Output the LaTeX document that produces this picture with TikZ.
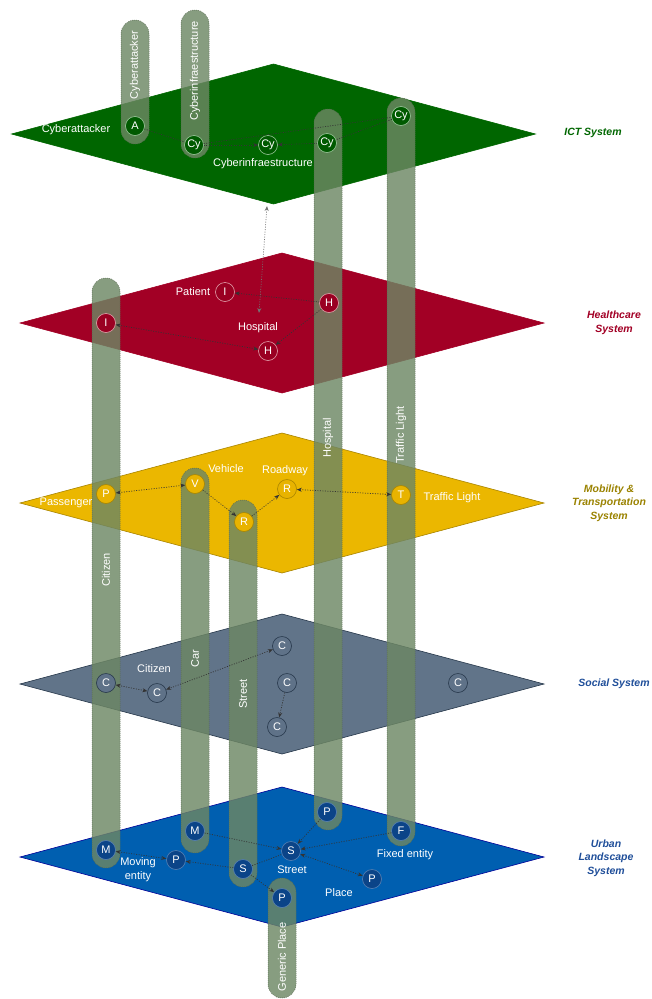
\documentclass[tikz,border=0pt]{standalone}
\usepackage{fontspec}
\setmainfont{Liberation Sans}
\usetikzlibrary{arrows.meta}
\definecolor{ictFill}{HTML}{006600}
\definecolor{ictNode}{HTML}{005A00}
\definecolor{ictLine}{HTML}{9CC89C}
\definecolor{hcFill}{HTML}{A20025}
\definecolor{hcNode}{HTML}{9A0022}
\definecolor{hcLine}{HTML}{E3A3AD}
\definecolor{mobFill}{HTML}{EBB700}
\definecolor{mobNode}{HTML}{E8B300}
\definecolor{mobLine}{HTML}{A88400}
\definecolor{socFill}{HTML}{617489}
\definecolor{socNode}{HTML}{5F7288}
\definecolor{socLine}{HTML}{26374A}
\definecolor{urbFill}{HTML}{005FB0}
\definecolor{urbNode}{HTML}{0B4488}
\definecolor{urbLine}{HTML}{5A82B4}
\definecolor{pillFill}{HTML}{6D8764}
\definecolor{pillLine}{HTML}{56694F}
\definecolor{mobText}{HTML}{9A8200}
\definecolor{socText}{HTML}{1F4E99}
\tikzset{
  ent/.style={shape=circle,inner sep=0pt,minimum size=19pt,line width=0.6pt,text=white,font=\fontsize{11}{11}\selectfont},
  ict/.style={ent,fill=ictNode,draw=ictLine},
  hc/.style={ent,fill=hcNode,draw=hcLine},
  mob/.style={ent,fill=mobNode,draw=mobLine},
  soc/.style={ent,fill=socNode,draw=socLine},
  urb/.style={ent,fill=urbNode,draw=urbLine},
  lbl/.style={text=white,inner sep=1pt,align=center,font=\fontsize{11}{14}\selectfont},
  pill/.style={fill=pillFill,fill opacity=0.82,draw=pillLine,draw opacity=0.9,line width=0.5pt,dash pattern=on 1pt off 1pt,rounded corners=13.9pt},
  pilltext/.style={rotate=90,text=white,inner sep=1pt,font=\fontsize{11}{11}\selectfont},
  link/.style={draw=black!80,line width=0.7pt,dash pattern=on 1pt off 1.5pt,>={Stealth[length=5pt,width=4pt]}},
  sys/.style={align=center,inner sep=1pt,font=\fontsize{10.5}{13.5}\selectfont\bfseries\itshape}
}
\newcommand{\plane}[4]{\filldraw[fill=#3,draw=#4,line width=0.6pt] (#1-262,#2) -- (#1,#2-70) -- (#1+262,#2) -- (#1,#2+70) -- cycle;}
\newcommand{\pillar}[6]{\draw[pill] (#2-14,#3) rectangle (#2+14,#4); \node[pilltext] (#1) at (#2,#6) {#5};}
\newcommand{\ent}[5]{\node[#5] (#1) at (#2,#3) {#4};}
\newcommand{\lbl}[4]{\node[lbl] (#1) at (#2,#3) {#4};}
\begin{document}
\begin{tikzpicture}[x=1pt,y=-1pt]
\useasboundingbox (0,0) rectangle (652,999);
% planes
\plane{273.5}{134}{ictFill}{ictFill}
\plane{282}{323}{hcFill}{hcFill}
\plane{282}{503}{mobFill}{mobLine}
\plane{282}{684}{socFill}{socLine}
\plane{282}{857}{urbFill}{blue!60!black}
% pillars
\pillar{pCyat}{135}{20}{144}{Cyberattacker}{65}
\pillar{pCyin}{195}{10}{158}{Cyberinfraestructure}{71}
\pillar{pHosp}{328}{109}{830}{Hospital}{438}
\pillar{pTraf}{401}{98}{846}{Traffic Light}{435}
\pillar{pCitz}{106}{278}{868}{Citizen}{570}
\pillar{pCar}{195}{468}{853}{Car}{659}
\pillar{pStre}{243}{500}{887}{Street}{694}
\pillar{pGenp}{282}{878}{998}{Generic Place}{957}
% ICT system
\ent{a}{135}{126}{A}{ict}
\ent{cy1}{194}{145}{Cy}{ict}
\ent{cy2}{268}{145}{Cy}{ict}
\ent{cy3}{327}{143}{Cy}{ict}
\ent{cy4}{401}{116}{Cy}{ict}
\lbl{lCyat}{76}{130}{Cyberattacker}
\lbl{lCyin}{263}{164}{Cyberinfraestructure}
\coordinate (ictBot) at (267,206);
% healthcare system
\ent{i1}{106}{323}{I}{hc}
\ent{i2}{225}{292}{I}{hc}
\ent{h1}{329}{303}{H}{hc}
\ent{h2}{268}{351}{H}{hc}
\lbl{lPati}{193}{292}{Patient}
\lbl{lHosp}{258}{328}{Hospital}
\coordinate (hospTop) at (259,313);
% mobility system
\ent{p1}{106}{494}{P}{mob}
\ent{v1}{195}{484}{V}{mob}
\ent{r1}{244}{522}{R}{mob}
\ent{r2}{287}{489}{R}{mob}
\ent{t1}{401}{495}{T}{mob}
\lbl{lPass}{66}{503}{Passenger}
\lbl{lVehi}{226}{469}{Vehicle}
\lbl{lRoad}{285}{471}{Roadway}
\lbl{lTraf}{452}{498}{Traffic Light}
% social system
\ent{c1}{106}{683}{C}{soc}
\ent{c2}{157}{693}{C}{soc}
\ent{c3}{282}{646}{C}{soc}
\ent{c4}{287}{683}{C}{soc}
\ent{c5}{277}{727}{C}{soc}
\ent{c6}{458}{683}{C}{soc}
\lbl{lCitz}{154}{669}{Citizen}
% urban landscape system
\ent{m1}{106}{850}{M}{urb}
\ent{m2}{195}{831}{M}{urb}
\ent{up1}{176}{860}{P}{urb}
\ent{s1}{243}{869}{S}{urb}
\ent{s2}{291}{851}{S}{urb}
\ent{up2}{327}{812}{P}{urb}
\ent{f1}{401}{831}{F}{urb}
\ent{up3}{372}{879}{P}{urb}
\ent{up4}{282}{898}{P}{urb}
\lbl{lMove}{138}{870}{Moving\\entity}
\lbl{lStre}{292}{870}{Street}
\lbl{lPlac}{339}{893}{Place}
\lbl{lFixe}{405}{855}{Fixed entity}
% links
\draw[link] (a) -- (cy1);
\draw[link,->] (cy1) -- (cy2);
\draw[link,->] (cy3) -- (cy2);
\draw[link] (cy4) -- (cy3);
\draw[link] (cy1) -- (cy4);
\draw[link,<->,draw=black!55] (ictBot) -- (hospTop);
\draw[link,->] (h1) -- (i2);
\draw[link,<->] (i1) -- (h2);
\draw[link,->] (h1) -- (h2);
\draw[link,<->] (p1) -- (v1);
\draw[link,->] (v1) -- (r1);
\draw[link,->] (r1) -- (r2);
\draw[link,<->] (r2) -- (t1);
\draw[link,<->] (c1) -- (c2);
\draw[link,<->] (c3) -- (c2);
\draw[link,->] (c4) -- (c5);
\draw[link,<->] (m1) -- (up1);
\draw[link,->] (m2) -- (s2);
\draw[link,->] (s1) -- (up1);
\draw[link] (s1) -- (s2);
\draw[link,->] (up2) -- (s2);
\draw[link,->] (f1) -- (s2);
\draw[link,<->] (s2) -- (up3);
\draw[link,->] (s1) -- (up4);
% system names
\node[sys,text=ictFill] (nIct) at (593,133) {ICT System};
\node[sys,text=hcFill] (nHc) at (614,323) {Healthcare\\System};
\node[sys,text=mobText] (nMob) at (609,503) {Mobility \&\\Transportation\\System};
\node[sys,text=socText] (nSoc) at (614,684) {Social System};
\node[sys,text=socText] (nUrb) at (606,858) {Urban\\Landscape\\System};
\end{tikzpicture}
\end{document}
